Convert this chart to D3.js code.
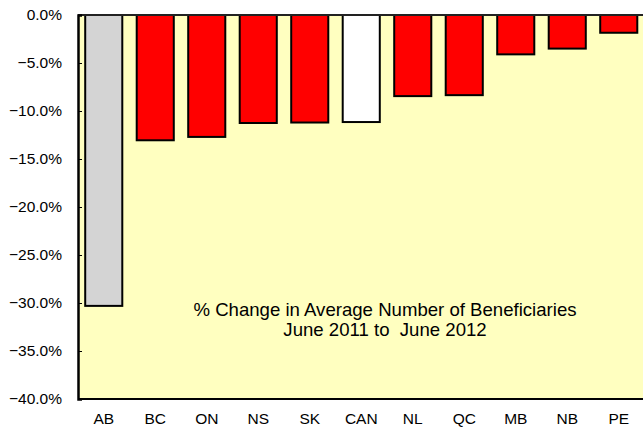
<!DOCTYPE html>
<html><head><meta charset="utf-8">
<script src="https://cdn.jsdelivr.net/npm/d3@7"></script>
<style>body{margin:0;background:#fff}svg{display:block}</style>
</head><body>
<script>
const categories = ["AB","BC","ON","NS","SK","CAN","NL","QC","MB","NB","PE"];
const values = [-30.3,-13.05,-12.7,-11.25,-11.2,-11.15,-8.45,-8.35,-4.1,-3.5,-1.85];
const colors = ["#D4D4D4","#FF0000","#FF0000","#FF0000","#FF0000","#FFFFFF","#FF0000","#FF0000","#FF0000","#FF0000","#FF0000"];
const yTicks = [0,-5,-10,-15,-20,-25,-30,-35,-40];
const titleLines = ["% Change in Average Number of Beneficiaries","June 2011 to  June 2012"];

const W=643,H=428;
const m={left:78,top:15,right:644.5,bottom:399};
const svg=d3.select("body").append("svg").attr("width",W).attr("height",H);
const x=d3.scaleBand().domain(categories).range([m.left,m.right]).paddingInner(0.28).paddingOuter(0.14);
const y=d3.scaleLinear().domain([0,-40]).range([m.top,m.bottom]);

svg.append("rect").attr("x",m.left).attr("y",m.top).attr("width",m.right-m.left).attr("height",m.bottom-m.top)
  .attr("fill","#FFFFC0");

svg.selectAll("rect.bar").data(categories).enter().append("rect").attr("class","bar")
  .attr("x",d=>x(d)).attr("width",x.bandwidth())
  .attr("y",y(0)).attr("height",(d,i)=>y(values[i])-y(0))
  .attr("fill",(d,i)=>colors[i]).attr("stroke","#000").attr("stroke-width",2);

// frame
svg.append("line").attr("x1",m.left).attr("x2",m.right).attr("y1",m.top).attr("y2",m.top).attr("stroke","#222").attr("stroke-width",2);
svg.append("line").attr("x1",m.left).attr("x2",m.right).attr("y1",m.bottom).attr("y2",m.bottom).attr("stroke","#000").attr("stroke-width",2);

const font="Liberation Sans, Arial, sans-serif";
const yAxis=d3.axisLeft(y).tickValues(yTicks).tickSize(-4).tickPadding(16).tickFormat(d=>d3.format(".1f")(d)+"%");
const ga=svg.append("g").attr("transform",`translate(${m.left},0)`).call(yAxis);
ga.select(".domain").attr("stroke","#000").attr("stroke-width",2.5);
ga.selectAll(".tick line").attr("stroke","#000");
ga.selectAll("text").attr("font-family",font).attr("font-size",15.5).attr("fill","#000");

const xAxis=d3.axisBottom(x).tickSize(0).tickPadding(14);
const gx=svg.append("g").attr("transform",`translate(0,${m.bottom})`).call(xAxis);
gx.select(".domain").remove();
gx.selectAll("text").attr("font-family",font).attr("font-size",15.5).attr("fill","#000");

svg.selectAll("text.title").data(titleLines).enter().append("text").attr("class","title")
  .attr("x",385).attr("y",(d,i)=>316+i*20).attr("text-anchor","middle")
  .attr("font-family",font).attr("font-size",18.6).attr("fill","#000")
  .attr("xml:space","preserve").style("white-space","pre").text(d=>d);
</script>
</body></html>
